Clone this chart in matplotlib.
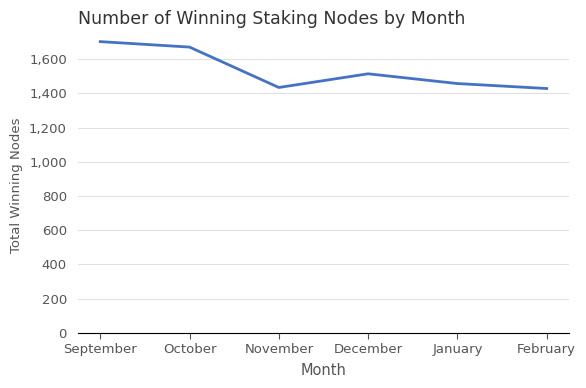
import matplotlib
matplotlib.use('Agg')
import matplotlib.pyplot as plt
from matplotlib.ticker import FuncFormatter

months = ['September', 'October', 'November', 'December', 'January', 'February']
winning_nodes = [1702, 1670, 1434, 1514, 1457, 1428]

fig = plt.figure(figsize=(5.86, 3.88), dpi=100)
ax = fig.add_axes([0.133, 0.142, 0.838, 0.760])

ax.plot(range(len(months)), winning_nodes, color='#4472C4', linewidth=2)

ax.set_xlim(-0.25, 5.25)
ax.set_ylim(0, 1723)
ax.set_yticks(range(0, 1601, 200))
ax.yaxis.set_major_formatter(FuncFormatter(lambda v, p: '{:,.0f}'.format(v)))
ax.set_xticks(range(len(months)))
ax.set_xticklabels(months)

ax.grid(axis='y', color='#e0e0e0', linewidth=0.8)
ax.set_axisbelow(True)
for s in ['top', 'right', 'left']:
    ax.spines[s].set_visible(False)
ax.spines['bottom'].set_color('black')

ax.tick_params(axis='y', length=0, labelsize=9.5, labelcolor='#555555', pad=8)
ax.tick_params(axis='x', length=4, labelsize=9.5, labelcolor='#555555', color='#555555')

ax.set_title('Number of Winning Staking Nodes by Month', fontsize=12.5, color='#333333', loc='left', pad=10)
ax.set_xlabel('Month', fontsize=10.5, color='#555555', labelpad=5)
ax.set_ylabel('Total Winning Nodes', fontsize=9.5, color='#555555')

fig.savefig('out.png', dpi=100)
